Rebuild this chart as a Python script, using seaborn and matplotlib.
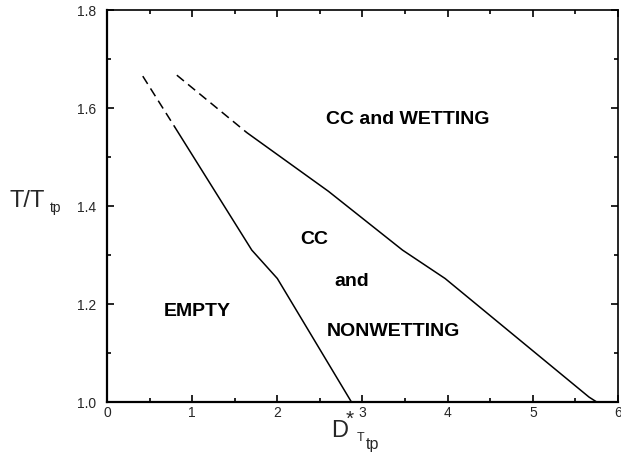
import matplotlib
matplotlib.use("Agg")
import matplotlib.pyplot as plt
from matplotlib.ticker import MultipleLocator
import numpy as np
import pandas as pd
import seaborn as sns

# Phase boundaries: reduced density D*_Ttp vs reduced temperature T/T_tp
left_dashed_x = [0.42, 0.80]
left_dashed_y = [1.665, 1.560]
left_solid_x = [0.80, 1.70, 2.00, 2.87]
left_solid_y = [1.560, 1.310, 1.252, 1.000]

right_dashed_x = [0.82, 1.64]
right_dashed_y = [1.667, 1.550]
right_solid_x = [1.64, 2.60, 3.47, 3.97, 5.66, 5.75]
right_solid_y = [1.550, 1.430, 1.310, 1.252, 1.010, 1.000]

region_labels = ["CC and WETTING", "CC", "and", "NONWETTING", "EMPTY"]
region_x = [3.53, 2.43, 2.87, 3.36, 1.06]
region_y = [1.576, 1.331, 1.245, 1.143, 1.184]

x_ticks = [0, 1, 2, 3, 4, 5, 6]
y_ticks = [1.0, 1.2, 1.4, 1.6, 1.8]

sns.set_style("ticks")
plt.rcParams["font.family"] = ["Liberation Sans", "DejaVu Sans"]

W, H = 621, 457
fig = plt.figure(figsize=(W / 100, H / 100), dpi=100)
ax = fig.add_axes([107 / W, 1 - 402 / H, 511 / W, 392 / H])


def fpos(x, y):
    """Pixel position from the top-left corner -> figure fraction."""
    return x / W, 1 - y / H


segments = [
    (left_dashed_x, left_dashed_y, (0, (6, 3.5))),
    (left_solid_x, left_solid_y, "-"),
    (right_dashed_x, right_dashed_y, (0, (6, 3.5))),
    (right_solid_x, right_solid_y, "-"),
]
for xs, ys, ls in segments:
    df = pd.DataFrame({"D": xs, "T": ys})
    sns.lineplot(data=df, x="D", y="T", sort=False, estimator=None,
                 color="black", linewidth=1.1, linestyle=ls, ax=ax)

for label, x, y in zip(region_labels, region_x, region_y):
    ax.text(x, y, label, ha="center", va="center", fontsize=14,
            fontweight="bold", color="black")

ax.set_xlim(0, 6)
ax.set_ylim(1.0, 1.8)
ax.set_xticks(x_ticks)
ax.set_yticks(y_ticks)
ax.set_xticklabels([str(t) for t in x_ticks])
ax.set_yticklabels([f"{t:.1f}" for t in y_ticks])
ax.xaxis.set_minor_locator(MultipleLocator(0.5))
ax.yaxis.set_minor_locator(MultipleLocator(0.1))
ax.tick_params(which="both", direction="in", top=True, right=True,
               color="black", width=1.2)
ax.tick_params(which="major", length=5)
ax.tick_params(which="minor", length=3)
ax.tick_params(axis="x", which="major", labelsize=10, pad=3)
ax.tick_params(axis="y", which="major", labelsize=10, pad=8)
ax.set_xlabel("")
ax.set_ylabel("")
for side in ["left", "bottom"]:
    ax.spines[side].set_linewidth(1.6)
for side in ["top", "right"]:
    ax.spines[side].set_linewidth(1.2)
for s in ax.spines.values():
    s.set_color("black")

# y-axis label: T/T_tp
fig.text(*fpos(9, 207), "T/T", fontsize=17, ha="left", va="baseline")
fig.text(*fpos(50, 212), "tp", fontsize=10, ha="left", va="baseline")

# x-axis label: D*_{T_tp}
fig.text(*fpos(331, 437), "D", fontsize=17, ha="left", va="baseline")
fig.text(*fpos(346, 425), "*", fontsize=15, ha="left", va="baseline")
fig.text(*fpos(357, 441), "T", fontsize=9, ha="left", va="baseline")
fig.text(*fpos(366, 449), "tp", fontsize=11.5, ha="left", va="baseline")

fig.savefig("out.png", dpi=100, facecolor="white")
